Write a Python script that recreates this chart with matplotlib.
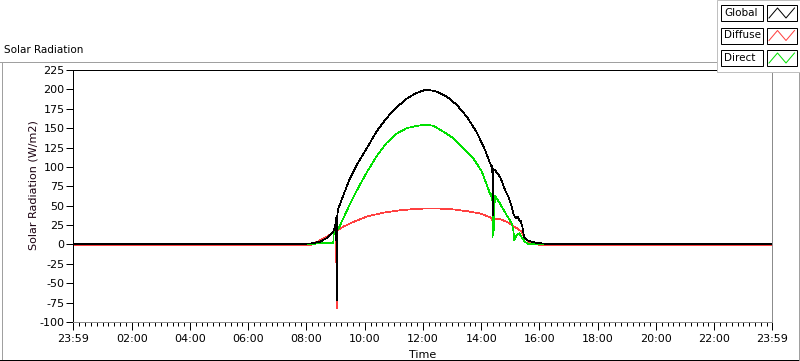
import matplotlib
matplotlib.use("Agg")
import matplotlib.pyplot as plt
from matplotlib.lines import Line2D
from matplotlib.patches import Rectangle
from matplotlib.ticker import FixedLocator, MultipleLocator

# ---------------- data ----------------
START = -1 / 60.0          # 23:59 previous day
END = 24 - 1 / 60.0        # 23:59

global_t = [START, 8.0, 8.2, 8.46, 8.69, 8.92, 8.99, 9.01, 9.02, 9.03, 9.04, 9.05, 9.06, 9.09,
            9.27, 9.49, 9.72, 10.07, 10.41, 10.75, 11.10, 11.44, 11.78, 12.13, 12.47, 12.81,
            13.16, 13.50, 13.84, 14.13, 14.30, 14.36, 14.38, 14.39, 14.40, 14.41, 14.42, 14.47,
            14.65, 14.82, 14.93, 15.05, 15.10, 15.18, 15.25, 15.31, 15.36, 15.41, 15.47, 15.56,
            15.90, 16.2, END]
global_v = [1, 1, 1.5, 3.5, 8, 16.5, 25, 33, 34, -20, -72, 30, 38, 46,
            64, 85, 102, 124, 146, 163, 177, 188, 195.5, 200, 197, 191,
            180, 165, 145, 122, 105, 100, 102, 40, 98, 38, 97, 96,
            87, 70, 62, 48, 40, 34, 36, 31, 30, 23, 10, 5.5,
            2, 1, 1]

diffuse_t = [START, 8.15, 8.4, 8.69, 8.92, 9.01, 9.03, 9.04, 9.05, 9.27, 9.61, 10.07, 10.64,
             11.21, 11.78, 12.36, 12.93, 13.50, 13.96, 14.24, 14.36, 14.40, 14.44, 14.58,
             14.87, 15.05, 15.22, 15.39, 15.50, 15.67, 16.02, END]
diffuse_v = [-0.5, -0.5, 4, 10, 15, 17, -35, -82, 18, 23, 29, 36, 41,
             44, 46, 46.5, 45.7, 43, 40, 36, 34, 29, 32, 33.5,
             29.5, 25, 21, 16.5, 8, 1.5, -0.5, -0.5]

direct_t = [START, 8.2, 8.35, 8.92, 8.93, 8.95, 9.09, 9.27, 9.49, 9.72, 10.07, 10.41, 10.75,
            11.10, 11.44, 11.78, 12.13, 12.36, 12.70, 13.04, 13.39, 13.73, 14.02, 14.24,
            14.33, 14.38, 14.39, 14.40, 14.42, 14.47, 14.64, 14.87, 15.05, 15.10, 15.135,
            15.22, 15.31, 15.39, 15.50, 15.62, END]
direct_v = [0, 0, 1.5, 1.5, 12, 16.5, 20, 34, 52, 69, 93, 114, 131,
            143, 150, 153, 154.5, 153, 145.5, 137, 124, 111, 94, 72,
            62, 66, 10, 60, 12, 63, 53, 38, 27, 18.6, 5.7,
            12, 14.4, 9, 3.5, 0.5, 0]

series_names = ["Global", "Diffuse", "Direct"]
series_colors = ["#000000", "#ff4040", "#00e000"]

x_tick_pos = [START, 2, 4, 6, 8, 10, 12, 14, 16, 18, 20, 22, END]
x_tick_labels = ["23:59", "02:00", "04:00", "06:00", "08:00", "10:00", "12:00",
                 "14:00", "16:00", "18:00", "20:00", "22:00", "23:59"]
y_ticks = list(range(-100, 226, 25))

# ---------------- figure ----------------
W, H = 800, 361
fig = plt.figure(figsize=(W / 100, H / 100), dpi=100)
plt.rcParams['font.family'] = ['DejaVu Sans']
LW = 0.72
DLW = 0.5


def fx(x):
    return x / W


def fy(y):
    return 1 - y / H


L, R, T, B = 73, 772, 70, 322
ax = fig.add_axes([fx(L), fy(B), fx(R) - fx(L), fy(T) - fy(B)])

ax.plot(diffuse_t, diffuse_v, color=series_colors[1], lw=DLW, antialiased=False, zorder=2)
ax.plot(direct_t, direct_v, color=series_colors[2], lw=DLW, antialiased=False, zorder=3)
ax.plot(global_t, global_v, color=series_colors[0], lw=DLW, antialiased=False, zorder=4)

ax.set_xlim(START, END)
ax.set_ylim(-100, 225)
ax.xaxis.set_major_locator(FixedLocator(x_tick_pos))
ax.set_xticklabels(x_tick_labels)
ax.xaxis.set_minor_locator(MultipleLocator(0.2))
ax.set_yticks(y_ticks)
ax.set_yticklabels([str(v) for v in y_ticks])

ax.tick_params(axis='y', which='major', length=5, width=LW, color='black',
               labelsize=8, pad=1)
ax.tick_params(axis='x', which='major', length=6, width=LW, color='black',
               labelsize=8, pad=3)
ax.tick_params(axis='x', which='minor', length=3, width=LW, color='black')

ax.spines['left'].set_color('black')
ax.spines['top'].set_color('black')
ax.spines['right'].set_color('#8c8c8c')
ax.spines['bottom'].set_color('#8c8c8c')
for s in ax.spines.values():
    s.set_linewidth(LW)

ax.set_xlabel("Time", fontsize=8, labelpad=4)
fig.text(fx(33), fy(185), "Solar Radiation (W/m2)", rotation=90, fontsize=8,
         ha='center', va='center', color='#1a0010')

# title of chart
fig.text(fx(4), fy(50), "Solar Radiation", fontsize=7.5, ha='left', va='center')


# outer frame
def line(x0, y0, x1, y1, color, lw=LW):
    fig.add_artist(Line2D([fx(x0), fx(x1)], [fy(y0), fy(y1)], color=color, lw=lw,
                          antialiased=False))


line(0, 61.5, 717, 61.5, '#a0a0a0')
line(1.5, 61.5, 1.5, 360, '#a0a0a0')
line(0, 359.5, 800, 359.5, 'black')
line(798.5, 72, 798.5, 360, '#a0a0a0')

# legend panel
fig.add_artist(Rectangle((fx(717), fy(72)), fx(800) - fx(717), fy(0) - fy(72),
                         transform=fig.transFigure, facecolor='white',
                         edgecolor='#c0c0c0', lw=LW, zorder=5))
row_tops = [5, 27.5, 50]
for name, col, top in zip(series_names, series_colors, row_tops):
    fig.add_artist(Rectangle((fx(721), fy(top + 16)), fx(763) - fx(721), fy(top) - fy(top + 16),
                             transform=fig.transFigure, facecolor='white',
                             edgecolor='black', lw=LW, zorder=6))
    fig.text(fx(724), fy(top + 8), name, fontsize=7.5, ha='left', va='center', zorder=7)
    fig.add_artist(Rectangle((fx(767), fy(top + 16)), fx(797) - fx(767), fy(top) - fy(top + 16),
                             transform=fig.transFigure, facecolor='white',
                             edgecolor='black', lw=LW, zorder=6))
    zx = [769, 777.5, 786, 794.5]
    zy = [top + 13, top + 3, top + 13, top + 3]
    fig.add_artist(Line2D([fx(v) for v in zx], [fy(v) for v in zy], color=col, lw=LW,
                          zorder=7))

fig.savefig("out.png", dpi=100)
